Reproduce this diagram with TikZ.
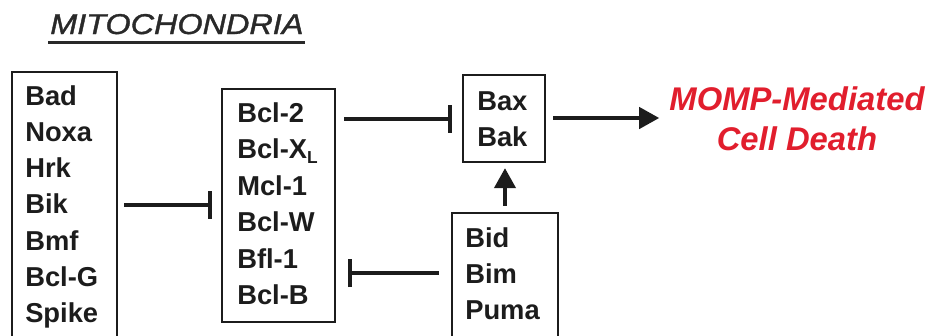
\documentclass[tikz,border=0pt]{standalone}
\usepackage{fontspec}
\usepackage{graphicx}
\setmainfont{Liberation Sans}
\newfontfamily\titlefont[FakeBold=1.2]{Liberation Sans}
\usetikzlibrary{arrows.meta,fit}
\definecolor{ink}{rgb}{0.11,0.11,0.11}
\definecolor{ttl}{rgb}{0.16,0.16,0.16}
\definecolor{mred}{RGB}{225,30,45}
\begin{document}
\begin{tikzpicture}[x=0.75pt,y=-0.75pt,
  box/.style={draw=ink, line width=1.8pt, inner sep=0pt},
  lbl/.style={anchor=base west, inner sep=0pt, text=ink, font=\fontsize{20.5}{#1}\selectfont\bfseries},
  inh/.style={draw=ink, line width=2.5pt, -{Bar[width=21pt]}},
  act/.style={draw=ink, line width=2.5pt, -{Triangle[length=15pt,width=16pt]}}]
\useasboundingbox (0,0) rectangle (933,336);
\clip (0,0) rectangle (933,336);
% title
\node[anchor=base west, inner sep=0pt, text=ttl] (title) at (50,34)
  {\fontsize{21.5}{21.5}\selectfont\titlefont\itshape\scalebox{1.13}[1]{MITOCHONDRIA}};
\draw[draw=ttl, line width=2.2pt] ([shift={(-1.5pt,-6.5pt)}]title.base west) -- ([shift={(1pt,-6.5pt)}]title.base east);
% boxes
\node[box, fit={(12,72)(117,380)}] (b1) {};
\node[box, fit={(222,89)(335,322)}] (b2) {};
\node[box, fit={(463,75)(545,162)}] (bax) {};
\node[box, fit={(452,213)(558,380)}] (bid) {};
% labels
\node[lbl=27.2] (t1) at (25,105) {\begin{tabular}[t]{@{}l@{}}Bad\\Noxa\\Hrk\\Bik\\Bmf\\Bcl-G\\Spike\end{tabular}};
\node[lbl=27.4] (t2) at (237,122) {\begin{tabular}[t]{@{}l@{}}Bcl-2\\Bcl-X\raisebox{-0.35ex}{\fontsize{13}{13}\selectfont L}\\Mcl-1\\Bcl-W\\Bfl-1\\Bcl-B\end{tabular}};
\node[lbl=27.6] (t3) at (477,110) {\begin{tabular}[t]{@{}l@{}}Bax\\Bak\end{tabular}};
\node[lbl=27.2] (t4) at (465,247) {\begin{tabular}[t]{@{}l@{}}Bid\\Bim\\Puma\end{tabular}};
\node[anchor=base, inner sep=0pt, text=mred, font=\fontsize{24.6}{30}\selectfont\bfseries\itshape] (momp) at (797,110)
  {\begin{tabular}[t]{@{}c@{}}MOMP-Mediated\\Cell Death\end{tabular}};
% connectors
\coordinate (ya) at (0,205);
\coordinate (yb) at (0,119);
\coordinate (yc) at (0,273);
\coordinate (yd) at (0,118);
\draw[inh, shorten <=4.5pt, shorten >=6.75pt] (b1.east |- ya) -- (b2.west |- ya);
\draw[inh, shorten <=6pt, shorten >=7.5pt] (b2.east |- yb) -- (bax.west |- yb);
\draw[inh, shorten <=9pt, shorten >=9pt] (bid.west |- yc) -- (b2.east |- yc);
\draw[act, shorten <=4.5pt, shorten >=3.75pt] (bid.north) -- (bid.north |- bax.south);
\draw[act, shorten <=5.25pt, shorten >=7.5pt] (bax.east |- yd) -- (momp.west |- yd);
\end{tikzpicture}
\end{document}
